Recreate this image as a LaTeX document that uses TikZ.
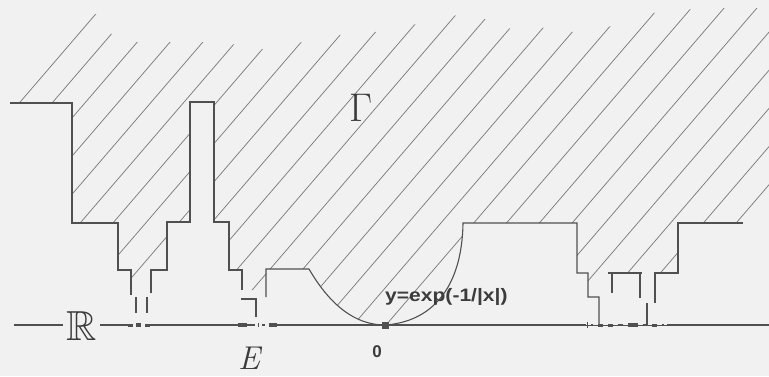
\documentclass[tikz,border=0pt]{standalone}
\usepackage{amssymb}
\usepackage{fontspec}
\newfontfamily\labfont{Liberation Sans}
\definecolor{bg}{RGB}{241,241,241}
\definecolor{ink}{RGB}{80,80,80}
\definecolor{hatchc}{RGB}{125,125,125}
\definecolor{txt}{RGB}{60,60,60}
\begin{document}
\begin{tikzpicture}[x=1pt,y=-1pt,
  bnd/.style={draw=ink,line width=1.1pt},
  thinbnd/.style={draw=ink,line width=0.7pt},
  hl/.style={draw=hatchc,line width=0.75pt},
  mk/.style={fill=ink}]
\fill[bg] (0,0) rectangle (769,376);
\useasboundingbox (0,0) rectangle (769,376);
% hatched region Gamma
\begin{scope}
\clip (16,103) -- (89,15) -- (97,14) -- (107,31) -- (125,42) -- (222,42) -- (247,47) -- (275,51) -- (317,37) -- (387,31) -- (425,22) -- (458,15) -- (491,20) -- (515,31) -- (550,27) -- (578,33) -- (612,26) -- (652,13) -- (705,8) -- (769,8) -- (769,190) -- (743,223) -- (678,223) -- (678,273) -- (655,273) -- (650,284) -- (642,273) -- (608,273) -- (604,292) -- (588,292) -- (588,273) -- (577,273) -- (577,223) -- (463,223) .. controls (462,290) and (430,322) .. (385,325) .. controls (355,325) and (330,305) .. (309,269) -- (266,269) -- (266,290) -- (242,290) -- (242,270) -- (229,270) -- (229,222) -- (214,222) -- (214,102) -- (190,102) -- (190,222) -- (167,222) -- (167,270) -- (151,270) -- (151,293) -- (131,293) -- (131,270) -- (118,270) -- (118,223) -- (72,223) -- (72,103) -- cycle;
\foreach \k in {-4,...,29} {
  \draw[hl] ({-84+32.8*\k+209},-20) -- ({-84+32.8*\k-152},400);
}
\end{scope}
% boundary of Gamma
\draw[bnd] (10,103) -- (72,103) -- (72,223) -- (118,223) -- (118,270) -- (131,270) -- (131,295);
\draw[bnd] (151,293) -- (151,270) -- (167,270) -- (167,222) -- (190,222) -- (190,102) -- (214,102) -- (214,222) -- (229,222) -- (229,270) -- (242,270) -- (242,290);
\draw[bnd] (136,297) -- (136,313);
\draw[bnd] (147,297) -- (147,313);
\draw[bnd] (241,299) -- (256,299) -- (256,317);
\draw[bnd] (266,297) -- (266,269) -- (309,269) .. controls (330,305) and (355,325) .. (385,325) .. controls (430,322) and (462,290) .. (463,223) -- (577,223) -- (577,273) -- (588,273) -- (588,297) -- (599,297) -- (599,325);
\draw[bnd] (608,273) -- (642,273);
\draw[bnd] (612,273) -- (612,293);
\draw[bnd] (640,273) -- (640,298);
\draw[bnd] (655,303) -- (655,273) -- (678,273) -- (678,223) -- (743,223);
\draw[bnd] (647,303) -- (647,325);
% real line R and the set E
\draw[bnd] (14,325) -- (63,325);
\draw[bnd] (100,325) -- (128,325);
\fill[mk] (128,323.5) rectangle (133,326.5);
\fill[mk] (136,323) rectangle (141,327);
\fill[mk] (145,323.5) rectangle (150,326.5);
\draw[bnd] (150,325) -- (238,325);
\fill[mk] (238,323) rectangle (247,327);
\draw[bnd] (247,325) -- (255,325);
\fill[mk] (257.5,323) rectangle (258.7,327);
\fill[mk] (262,324) rectangle (264.5,326);
\fill[mk] (269,323) rectangle (277,327);
\draw[bnd] (277,325) -- (382,325);
\fill[mk] (382,321.5) rectangle (389,328.5);
\draw[bnd] (389,325) -- (586,325);
\draw[thinbnd] (586,325) -- (667,325);
\fill[mk] (586.5,322) rectangle (587.7,328);
\fill[mk] (591,324) rectangle (593,326);
\fill[mk] (598,323.5) rectangle (603,326.5);
\fill[mk] (608,323.5) rectangle (613,326.5);
\fill[mk] (618,324) rectangle (623,326);
\fill[mk] (628,323) rectangle (638,327);
\fill[mk] (643,324) rectangle (647,326);
\fill[mk] (652,323.5) rectangle (657,326.5);
\fill[mk] (662,324) rectangle (664,326);
\draw[bnd] (667,325) -- (769,325);
% labels
\node[font=\fontsize{40}{40}\selectfont, text=txt, inner sep=0, anchor=base] (gam) at (361,121) {Γ};
\node[text=txt, inner sep=0, anchor=base] (rr) at (81.5,340) {\scalebox{4.2}{$\mathbb{R}$}};
\node[font=\fontsize{33}{33}\selectfont\itshape, text=txt, inner sep=0, anchor=base] (ee) at (249,369) {E};
\node[font=\labfont\bfseries\fontsize{18}{18}\selectfont, text=txt, anchor=base west, inner sep=0] (lbl) at (385,301) {\scalebox{1.17}[1]{y=exp(-1/|x|)}};
\node[font=\labfont\bfseries\fontsize{17}{17}\selectfont, text=txt, anchor=base, inner sep=0] (zero) at (377,357) {0};
\end{tikzpicture}
\end{document}
